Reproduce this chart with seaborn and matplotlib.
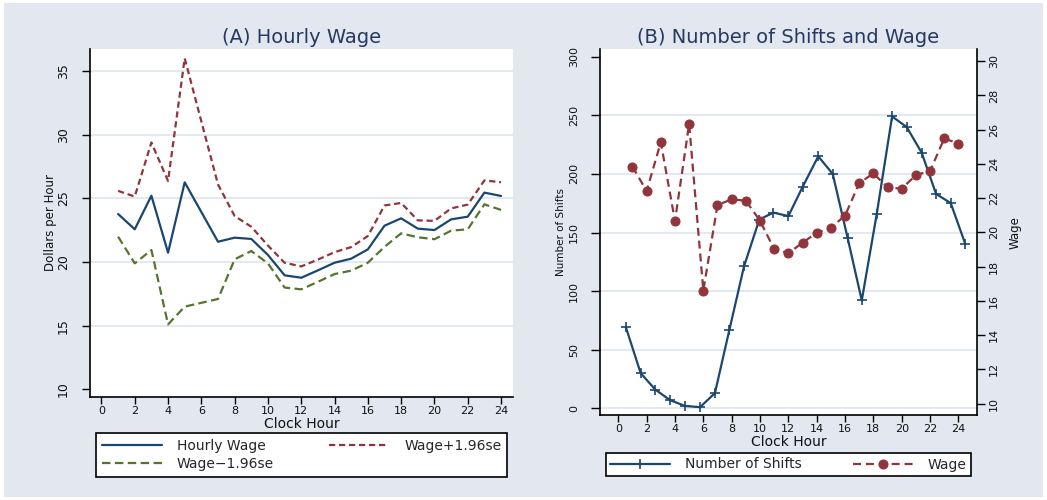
import matplotlib
matplotlib.use("Agg")
import matplotlib.pyplot as plt
import seaborn as sns
from matplotlib.patches import Rectangle

# ---------------- data ----------------
hours_a = [1, 2, 3, 4, 5, 7, 8, 9, 10, 11, 12, 13, 14, 15, 16, 17, 18, 19, 20, 21, 22, 23, 24]
wage_a = [23.78, 22.58, 25.22, 20.74, 26.27, 21.60, 21.92, 21.82, 20.56, 18.96, 18.77, 19.35,
          19.95, 20.27, 21.00, 22.86, 23.44, 22.63, 22.52, 23.36, 23.57, 25.46, 25.20]
upper_a = [25.60, 25.15, 29.40, 26.38, 36.02, 26.10, 23.62, 22.78, 21.30, 19.95, 19.66, 20.20,
           20.78, 21.18, 22.05, 24.45, 24.65, 23.28, 23.24, 24.22, 24.52, 26.42, 26.28]
lower_a = [22.00, 19.90, 20.95, 15.10, 16.50, 17.10, 20.22, 20.87, 19.90, 18.00, 17.86, 18.45,
           19.06, 19.33, 19.95, 21.20, 22.26, 21.95, 21.80, 22.47, 22.58, 24.54, 24.10]

hours_b = [1, 2, 3, 4, 5, 6, 7, 8, 9, 10, 11, 12, 13, 14, 15, 16, 17, 18, 19, 20, 21, 22, 23, 24]
wage_b = [23.84, 22.42, 25.26, 20.67, 26.33, 16.60, 21.60, 21.93, 21.85, 20.68, 19.03, 18.78,
          19.40, 19.98, 20.27, 20.98, 22.87, 23.45, 22.63, 22.55, 23.35, 23.58, 25.49, 25.18]
shift_hours = [0.54, 1.58, 2.61, 3.65, 4.71, 5.77, 6.82, 7.84, 8.87, 9.95, 10.94, 12.00,
               13.01, 14.11, 15.13, 16.19, 17.18, 18.24, 19.32, 20.35, 21.41, 22.42, 23.46, 24.49]
shift_counts = [69, 30, 16, 7, 2, 1, 13, 67, 121, 161, 167, 164,
                189, 215, 200, 145, 92, 166, 249, 240, 218, 183, 175, 140]

xticks = list(range(0, 25, 2))
yticks_a = [10, 15, 20, 25, 30, 35]
yticks_b_left = [0, 50, 100, 150, 200, 250, 300]
yticks_b_right = list(range(10, 31, 2))

# ---------------- style ----------------
sns.set_theme(style="white")
plt.rcParams['font.family'] = ['DejaVu Sans']

NAVY = "#1A476F"
MAROON = "#90353B"
GREEN = "#55752F"
BG = "#E2E7F0"
GRID = "#E4E9F1"
TITLE = "#26395E"
TXT = "#111111"

W, H = 1047, 500
fig = plt.figure(figsize=(W / 100, H / 100), dpi=100)
fig.patch.set_facecolor("white")
fig.add_artist(Rectangle((4 / W, 3 / H), (1043 - 4) / W, (497 - 3) / H,
                         transform=fig.transFigure, facecolor=BG, edgecolor="none", zorder=-10))


def fax(l, r, t, b):
    return fig.add_axes([l / W, 1 - b / H, (r - l) / W, (b - t) / H])


def style_axis(ax, spines):
    ax.set_facecolor("white")
    for s in ["left", "right", "top", "bottom"]:
        ax.spines[s].set_visible(s in spines)
        ax.spines[s].set_color("black")
        ax.spines[s].set_linewidth(1.2)


# ---------------- Panel A ----------------
A_L, A_R, A_T, A_B = 90.3, 513.2, 49, 396.7
axA = fax(A_L, A_R, A_T, A_B)
style_axis(axA, ["left", "bottom"])
sns.lineplot(x=hours_a, y=wage_a, ax=axA, color=NAVY, lw=1.6, label="Hourly Wage",
             legend=False, sort=False, estimator=None)
sns.lineplot(x=hours_a, y=upper_a, ax=axA, color=MAROON, lw=1.6, linestyle=(0, (2.8, 1.7)),
             label="Wage+1.96se", legend=False, sort=False, estimator=None)
sns.lineplot(x=hours_a, y=lower_a, ax=axA, color=GREEN, lw=1.6, linestyle=(0, (3.8, 2.0)),
             label="Wage\u22121.96se", legend=False, sort=False, estimator=None)
axA.set_xlim(-0.67, 24.73)
axA.set_ylim(9.42, 36.75)
axA.set_xticks(xticks)
axA.set_yticks(yticks_a)
axA.set_axisbelow(True)
axA.yaxis.grid(True, color=GRID, lw=1.5)
axA.xaxis.grid(False)
for gl, v in zip(axA.yaxis.get_gridlines(), yticks_a):
    if v == 10:
        gl.set_visible(False)
axA.tick_params(axis="x", direction="out", length=5, width=1, color="black", bottom=True,
                labelsize=8, pad=1.5, labelcolor=TXT)
axA.tick_params(axis="y", direction="out", length=5.8, width=1, color="black", left=True,
                labelsize=9, pad=9, labelrotation=90, labelcolor=TXT)
for t in axA.get_yticklabels():
    t.set_va("center")
axA.set_xlabel("Clock Hour", fontsize=10, color=TXT)
axA.xaxis.set_label_coords(0.5, -(423.5 - A_B) / (A_B - A_T))
axA.xaxis.label.set_va("center")
axA.set_ylabel("Dollars per Hour", fontsize=8.5, color=TXT)
axA.yaxis.set_label_coords((50.5 - A_L) / (A_R - A_L), 0.5)
axA.yaxis.label.set_va("center")
axA.set_title("(A) Hourly Wage", fontsize=14, color=TITLE, pad=4.5)

hA = axA.get_lines()
legA = fig.legend(handles=[hA[0], hA[2], hA[1]],
                  labels=["Hourly Wage", "Wage\u22121.96se", "Wage+1.96se"],
                  ncol=2, mode="expand", loc="center",
                  bbox_to_anchor=(96.3 / W, 1 - 475.7 / H, (507 - 96.3) / W, (475.7 - 434.3) / H),
                  frameon=True, fancybox=False, edgecolor="black", facecolor="white", framealpha=1,
                  fontsize=10, handlelength=4.3, handletextpad=1.1, borderpad=0.4,
                  labelspacing=0.3, borderaxespad=0, columnspacing=1.0)
legA.get_frame().set_linewidth(1.2)

# ---------------- Panel B ----------------
B_L, B_R, B_T, B_B = 600, 976.7, 49.3, 415
axB = fax(B_L, B_R, B_T, B_B)
style_axis(axB, ["left", "bottom"])
sns.lineplot(x=shift_hours, y=shift_counts, ax=axB, color=NAVY, lw=1.6, marker="+", ms=7,
             mew=1.2, mec=NAVY, label="Number of Shifts", legend=False, sort=False,
             estimator=None)
axB.set_xlim(-1.29, 25.29)
axB.set_ylim(-5.7, 306.3)
axB.set_xticks(xticks)
axB.set_yticks(yticks_b_left)
axB.set_axisbelow(True)
axB.yaxis.grid(True, color=GRID, lw=1.5)
axB.xaxis.grid(False)
for gl, v in zip(axB.yaxis.get_gridlines(), yticks_b_left):
    if v == 300:
        gl.set_visible(False)
axB.tick_params(axis="x", direction="out", length=5, width=1, color="black", bottom=True,
                labelsize=8, pad=1.5, labelcolor=TXT)
axB.tick_params(axis="y", direction="out", length=6.5, width=1, color="black", left=True,
                labelsize=8, pad=8.5, labelrotation=90, labelcolor=TXT)
for t in axB.get_yticklabels():
    t.set_va("center")
axB.set_xlabel("Clock Hour", fontsize=10, color=TXT)
axB.xaxis.set_label_coords(0.5, -(442.5 - B_B) / (B_B - B_T))
axB.xaxis.label.set_va("center")
axB.set_ylabel("Number of Shifts", fontsize=7.5, color=TXT)
axB.yaxis.set_label_coords((561.5 - B_L) / (B_R - B_L), 0.5)
axB.yaxis.label.set_va("center")
axB.set_title("(B) Number of Shifts and Wage", fontsize=14, color=TITLE, pad=4.7)

ax2 = axB.twinx()
for s in ["left", "top", "bottom"]:
    ax2.spines[s].set_visible(False)
ax2.spines["right"].set_visible(True)
ax2.spines["right"].set_color("black")
ax2.spines["right"].set_linewidth(1.2)
sns.lineplot(x=hours_b, y=wage_b, ax=ax2, color=MAROON, lw=1.6, linestyle=(0, (3.6, 2.2)),
             marker="o", ms=6.5, mec=MAROON, label="Wage", legend=False, sort=False,
             estimator=None)
ax2.set_ylim(9.34, 30.69)
ax2.set_yticks(yticks_b_right)
ax2.grid(False)
ax2.tick_params(axis="y", direction="out", length=6, width=1, color="black", right=True,
                labelsize=8, pad=3, labelrotation=90, labelcolor=TXT)
for t in ax2.get_yticklabels():
    t.set_va("center")
ax2.set_ylabel("Wage", fontsize=8.5, color=TXT)
ax2.yaxis.set_label_coords((1015 - B_L) / (B_R - B_L), 0.5)
ax2.yaxis.label.set_va("center")

legB = fig.legend(handles=[axB.get_lines()[0], ax2.get_lines()[0]],
                  labels=["Number of Shifts", "Wage"],
                  ncol=2, mode="expand", loc="center", numpoints=1,
                  bbox_to_anchor=(606.3 / W, 1 - 475 / H, (971 - 606.3) / W, (475 - 454) / H),
                  frameon=True, fancybox=False, edgecolor="black", facecolor="white", framealpha=1,
                  fontsize=10, handlelength=4.3, handletextpad=1.1, borderpad=0.3,
                  borderaxespad=0, columnspacing=1.0)
legB.get_frame().set_linewidth(1.2)

fig.savefig("out.png", dpi=100, facecolor=fig.get_facecolor())
